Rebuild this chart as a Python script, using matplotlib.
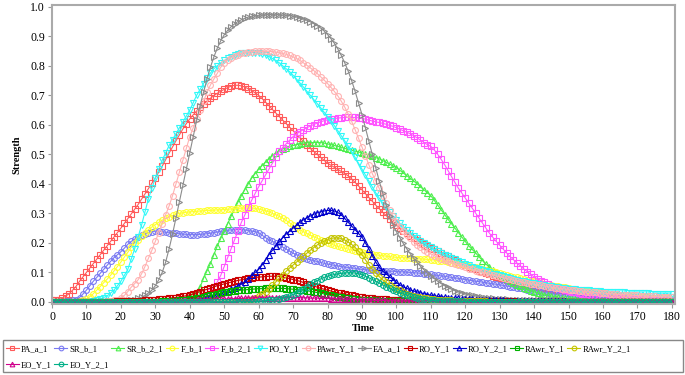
import matplotlib
matplotlib.use('Agg')
import matplotlib.pyplot as plt
from matplotlib.patches import Rectangle

plt.rcParams['font.family'] = ['Liberation Serif', 'DejaVu Serif']

# time axis, one sample per step
time = list(range(181))

pa_a_1 = [
    .005, .006, .008, .012, .02, .028, .04, .053, .07, .085,
    .10, .115, .13, .145, .16, .175, .19, .205, .22, .235,
    .25, .266, .282, .298, .314, .33, .348, .366, .384, .402,
    .42, .44, .46, .482, .504, .525, .546, .566, .586, .604,
    .62, .634, .647, .659, .67, .68, .69, .699, .707, .714,
    .72, .726, .731, .734, .734, .732, .728, .722, .716, .708,
    .70, .689, .677, .665, .652, .64, .628, .616, .604, .592,
    .58, .568, .556, .544, .532, .52, .51, .5, .49, .48,
    .47, .463, .456, .449, .442, .435, .427, .417, .405, .393,
    .38, .367, .354, .341, .328, .316, .304, .293, .282, .271,
    .26, .251, .242, .233, .225, .217, .21, .203, .196, .19,
    .184, .178, .172, .166, .16, .154, .148, .142, .136, .13,
    .125, .12, .115, .11, .105, .101, .097, .093, .089, .085,
    .082, .078, .075, .072, .069, .066, .063, .06, .058, .056,
    .054, .052, .05, .048, .046, .044, .042, .041, .039, .037,
    .036, .035, .033, .032, .031, .03, .029, .027, .026, .025,
    .024, .023, .022, .021, .02, .019, .018, .017, .016, .015,
    .014, .014, .013, .012, .012, .011, .01, .01, .009, .009,
    .008]

sr_b_1 = [
    0, 0, 0, .001, .002, .003, .005, .008, .015, .027,
    .04, .055, .07, .083, .097, .11, .124, .137, .15, .16,
    .17, .182, .195, .205, .213, .22, .226, .231, .235, .238,
    .24, .24, .238, .236, .234, .233, .232, .231, .23, .229,
    .228, .228, .228, .229, .23, .231, .233, .235, .237, .239,
    .241, .243, .244, .245, .245, .245, .244, .242, .24, .238,
    .235, .226, .218, .21, .205, .2, .193, .186, .179, .172,
    .165, .16, .155, .15, .146, .143, .14, .137, .134, .131,
    .128, .126, .124, .122, .12, .118, .117, .115, .114, .112,
    .11, .109, .108, .107, .107, .106, .105, .105, .104, .104,
    .103, .102, .102, .101, .1, .099, .098, .097, .096, .094,
    .093, .091, .09, .088, .087, .085, .083, .081, .08, .078,
    .076, .074, .072, .07, .069, .067, .065, .063, .061, .06,
    .058, .056, .054, .052, .05, .048, .046, .044, .042, .04,
    .038, .036, .034, .032, .03, .028, .026, .024, .022, .02,
    .018, .017, .016, .015, .014, .012, .011, .01, .009, .008,
    .008, .007, .007, .006, .006, .005, .005, .005, .004, .004,
    .004, .004, .003, .003, .003, .003, .003, .003, .002, .002,
    .002]

sr_b_2_1 = [
    0, 0, 0, 0, 0, 0, 0, 0, 0, 0,
    0, 0, 0, 0, 0, 0, 0, 0, 0, 0,
    0, 0, 0, 0, 0, .001, .001, .001, .002, .002,
    .002, .003, .003, .004, .004, .005, .006, .007, .009, .012,
    .02, .027, .035, .05, .08, .105, .13, .16, .19, .215,
    .24, .265, .29, .315, .338, .36, .38, .4, .42, .435,
    .45, .462, .474, .485, .495, .505, .512, .518, .523, .527,
    .53, .533, .536, .538, .539, .54, .54, .54, .54, .538,
    .535, .533, .53, .527, .524, .52, .517, .514, .511, .508,
    .505, .501, .497, .493, .489, .485, .479, .473, .467, .461,
    .455, .446, .437, .428, .419, .41, .4, .39, .38, .37,
    .36, .344, .328, .312, .296, .28, .265, .25, .235, .22,
    .205, .19, .178, .166, .153, .14, .128, .118, .109, .1,
    .092, .085, .078, .071, .065, .059, .053, .048, .043, .038,
    .034, .03, .027, .024, .022, .02, .018, .016, .014, .013,
    .012, .011, .01, .009, .008, .008, .007, .006, .006, .005,
    .005, .005, .004, .004, .004, .003, .003, .003, .003, .003,
    .002, .002, .002, .002, .002, .002, .002, .002, .002, .002,
    .002]

f_b_1 = [
    0, 0, 0, 0, 0, 0, 0, .001, .002, .005,
    .01, .018, .028, .04, .052, .065, .077, .09, .105, .12,
    .135, .152, .168, .185, .198, .21, .222, .234, .245, .254,
    .262, .27, .277, .283, .288, .293, .297, .3, .302, .304,
    .305, .306, .307, .308, .309, .31, .31, .311, .312, .312,
    .313, .314, .315, .316, .317, .318, .318, .318, .318, .317,
    .315, .312, .309, .305, .3, .295, .29, .284, .276, .268,
    .26, .252, .244, .238, .232, .226, .221, .216, .21, .205,
    .2, .196, .192, .188, .185, .182, .179, .176, .173, .17,
    .168, .166, .164, .162, .16, .158, .157, .155, .154, .152,
    .151, .15, .15, .149, .148, .147, .146, .146, .145, .144,
    .143, .142, .14, .139, .137, .135, .133, .131, .129, .127,
    .125, .123, .12, .118, .115, .112, .109, .106, .104, .101,
    .098, .095, .092, .089, .086, .083, .08, .077, .075, .072,
    .07, .067, .065, .062, .06, .058, .055, .053, .051, .049,
    .047, .045, .043, .042, .04, .038, .036, .035, .033, .032,
    .03, .029, .028, .026, .025, .024, .023, .022, .021, .02,
    .018, .018, .017, .016, .015, .014, .014, .013, .012, .012,
    .011]

f_b_2_1 = [
    0, 0, 0, 0, 0, 0, 0, 0, 0, 0,
    0, 0, 0, 0, 0, 0, 0, 0, 0, 0,
    0, 0, 0, 0, 0, 0, 0, 0, 0, 0,
    0, 0, 0, 0, 0, .001, .001, .002, .003, .004,
    .006, .008, .011, .015, .02, .025, .035, .05, .068, .09,
    .12, .15, .18, .21, .24, .27, .295, .32, .345, .368,
    .39, .41, .43, .45, .47, .49, .51, .523, .536, .548,
    .56, .569, .577, .584, .59, .596, .601, .606, .61, .614,
    .617, .619, .621, .623, .624, .625, .625, .625, .625, .624,
    .622, .619, .616, .613, .61, .608, .605, .602, .598, .595,
    .59, .585, .58, .575, .57, .563, .556, .548, .54, .533,
    .527, .515, .5, .483, .465, .445, .425, .405, .385, .369,
    .352, .335, .318, .301, .284, .267, .25, .233, .219, .205,
    .192, .179, .166, .154, .143, .132, .122, .112, .102, .093,
    .085, .078, .072, .066, .06, .055, .051, .047, .043, .04,
    .037, .034, .032, .03, .028, .026, .024, .022, .021, .02,
    .019, .018, .017, .016, .015, .014, .013, .012, .012, .011,
    .01, .01, .009, .009, .008, .008, .007, .007, .007, .006,
    .006]

po_y_1 = [
    0, 0, 0, 0, 0, 0, 0, 0, 0, 0,
    0, .001, .003, .005, .01, .015, .02, .03, .04, .055,
    .07, .09, .11, .145, .18, .22, .26, .305, .35, .385,
    .42, .45, .48, .505, .53, .55, .57, .59, .61, .63,
    .65, .675, .7, .72, .74, .76, .775, .79, .8, .81,
    .818, .825, .83, .835, .839, .842, .844, .845, .845, .845,
    .843, .84, .836, .831, .825, .818, .81, .8, .79, .78,
    .768, .755, .742, .728, .714, .7, .686, .672, .658, .643,
    .628, .613, .597, .58, .563, .546, .528, .51, .49, .47,
    .45, .43, .41, .39, .37, .352, .336, .32, .305, .29,
    .278, .266, .255, .244, .234, .224, .215, .207, .199, .192,
    .185, .178, .172, .166, .16, .155, .15, .145, .14, .135,
    .13, .125, .12, .116, .112, .108, .104, .1, .096, .093,
    .09, .087, .084, .081, .078, .075, .072, .07, .068, .065,
    .063, .061, .059, .057, .055, .053, .051, .049, .048, .046,
    .045, .044, .043, .042, .041, .04, .039, .038, .037, .036,
    .035, .034, .034, .033, .033, .032, .032, .031, .031, .03,
    .03, .03, .029, .029, .028, .028, .028, .027, .027, .027,
    .026]

pawr_y_1 = [
    0, 0, 0, 0, 0, 0, 0, 0, 0, 0,
    0, 0, 0, 0, 0, .001, .002, .003, .005, .008,
    .015, .022, .035, .05, .062, .075, .095, .12, .148, .175,
    .205, .235, .265, .295, .325, .36, .4, .44, .48, .52,
    .56, .59, .62, .65, .68, .71, .735, .755, .775, .795,
    .81, .82, .828, .834, .838, .842, .845, .847, .848, .849,
    .849, .849, .849, .849, .848, .846, .844, .842, .839, .835,
    .83, .825, .818, .81, .802, .793, .784, .774, .763, .752,
    .74, .727, .713, .698, .68, .66, .637, .612, .584, .555,
    .525, .495, .465, .435, .41, .385, .36, .335, .31, .29,
    .27, .255, .24, .227, .215, .204, .194, .185, .177, .17,
    .163, .157, .151, .146, .141, .137, .133, .129, .125, .121,
    .117, .113, .11, .106, .103, .1, .097, .094, .091, .088,
    .085, .082, .079, .077, .074, .071, .069, .066, .064, .062,
    .06, .058, .056, .054, .052, .05, .048, .047, .045, .044,
    .042, .041, .039, .038, .037, .035, .034, .033, .032, .031,
    .03, .029, .028, .027, .026, .025, .025, .024, .023, .022,
    .022, .021, .02, .02, .019, .019, .018, .018, .017, .017,
    .016]

ea_a_1 = [
    0, 0, 0, 0, 0, 0, 0, 0, 0, 0,
    0, 0, 0, 0, 0, 0, 0, 0, .001, .001,
    .002, .003, .004, .006, .008, .012, .016, .022, .03, .04,
    .055, .075, .1, .135, .18, .23, .285, .34, .395, .45,
    .505, .56, .615, .665, .71, .755, .795, .83, .86, .885,
    .905, .92, .932, .942, .95, .956, .961, .965, .968, .97,
    .971, .972, .973, .973, .973, .973, .973, .972, .971, .97,
    .968, .965, .962, .958, .954, .949, .943, .936, .928, .918,
    .906, .892, .876, .857, .835, .81, .782, .75, .714, .674,
    .635, .59, .545, .5, .455, .41, .37, .33, .29, .262,
    .238, .218, .198, .18, .164, .148, .134, .121, .109, .098,
    .088, .079, .07, .062, .055, .049, .043, .038, .034, .03,
    .027, .024, .022, .02, .018, .016, .015, .013, .012, .011,
    .01, .009, .009, .008, .008, .007, .007, .006, .006, .006,
    .005, .005, .005, .005, .005, .005, .005, .005, .005, .005,
    .004, .004, .004, .004, .004, .004, .004, .004, .004, .004,
    .003, .003, .003, .003, .003, .003, .003, .003, .003, .003,
    .003, .003, .003, .003, .003, .002, .002, .002, .002, .002,
    .002]

ro_y_1 = [
    0, 0, 0, 0, 0, 0, 0, 0, 0, 0,
    0, 0, 0, 0, 0, .001, .001, .001, .001, .002,
    .002, .002, .003, .003, .003, .004, .004, .005, .006, .007,
    .008, .009, .01, .011, .012, .014, .015, .017, .019, .021,
    .024, .027, .031, .035, .039, .043, .047, .051, .055, .058,
    .061, .064, .067, .07, .073, .075, .078, .08, .082, .083,
    .084, .085, .086, .087, .087, .087, .086, .084, .082, .079,
    .076, .073, .07, .066, .062, .058, .054, .05, .046, .043,
    .04, .037, .034, .031, .029, .027, .025, .022, .02, .018,
    .016, .015, .013, .012, .011, .01, .009, .009, .008, .008,
    .007, .007, .006, .006, .006, .005, .005, .005, .004, .004,
    .004, .004, .004, .003, .003, .003, .003, .003, .003, .002,
    .002, .002, .002, .002, .002, .002, .002, .002, .002, .002,
    .002, .002, .002, .002, .002, .001, .001, .001, .001, .001,
    .001, .001, .001, .001, .001, .001, .001, .001, .001, .001,
    .001, .001, .001, .001, .001, .001, .001, .001, .001, .001,
    0, 0, 0, 0, 0, 0, 0, 0, 0, 0,
    0, 0, 0, 0, 0, 0, 0, 0, 0, 0,
    0]

ro_y_2_1 = [
    0, 0, 0, 0, 0, 0, 0, 0, 0, 0,
    0, 0, 0, 0, 0, 0, 0, 0, 0, 0,
    0, 0, 0, 0, 0, 0, 0, 0, 0, 0,
    0, 0, 0, 0, 0, .001, .001, .002, .002, .003,
    .005, .006, .008, .011, .014, .017, .02, .023, .026, .03,
    .034, .038, .043, .048, .054, .06, .068, .078, .09, .1,
    .11, .125, .142, .16, .175, .19, .205, .218, .23, .24,
    .25, .26, .27, .278, .285, .291, .297, .302, .305, .308,
    .31, .31, .308, .303, .295, .283, .27, .257, .245, .232,
    .22, .2, .18, .157, .135, .118, .105, .095, .086, .076,
    .066, .058, .051, .046, .041, .037, .034, .031, .028, .025,
    .023, .021, .019, .018, .016, .015, .014, .013, .012, .011,
    .01, .009, .009, .008, .008, .007, .007, .006, .006, .005,
    .005, .005, .004, .004, .004, .004, .003, .003, .003, .003,
    .002, .002, .002, .002, .002, .002, .002, .002, .002, .002,
    .001, .001, .001, .001, .001, .001, .001, .001, .001, .001,
    .001, .001, .001, .001, .001, .001, .001, .001, .001, .001,
    .001, .001, .001, .001, .001, .001, .001, .001, .001, .001,
    .001]

rawr_y_1 = [
    0, 0, 0, 0, 0, 0, 0, 0, 0, 0,
    0, 0, 0, 0, 0, 0, 0, 0, 0, 0,
    0, 0, 0, 0, 0, 0, 0, 0, 0, 0,
    .001, .001, .002, .002, .003, .003, .004, .005, .006, .007,
    .009, .011, .012, .014, .017, .019, .022, .024, .027, .03,
    .032, .034, .036, .037, .039, .04, .041, .042, .043, .044,
    .045, .045, .046, .046, .046, .046, .046, .046, .045, .044,
    .043, .042, .041, .04, .038, .036, .034, .032, .03, .027,
    .025, .022, .02, .018, .016, .014, .012, .011, .009, .008,
    .007, .006, .006, .005, .005, .004, .004, .003, .003, .002,
    .002, .002, .002, .002, .002, .002, .002, .002, .002, .002,
    .001, .001, .001, .001, .001, .001, .001, .001, .001, .001,
    .001, .001, .001, .001, .001, .001, .001, .001, .001, .001,
    0, 0, 0, 0, 0, 0, 0, 0, 0, 0,
    0, 0, 0, 0, 0, 0, 0, 0, 0, 0,
    0, 0, 0, 0, 0, 0, 0, 0, 0, 0,
    0, 0, 0, 0, 0, 0, 0, 0, 0, 0,
    0, 0, 0, 0, 0, 0, 0, 0, 0, 0,
    0]

rawr_y_2_1 = [
    0, 0, 0, 0, 0, 0, 0, 0, 0, 0,
    0, 0, 0, 0, 0, 0, 0, 0, 0, 0,
    0, 0, 0, 0, 0, 0, 0, 0, 0, 0,
    0, 0, 0, 0, 0, 0, 0, 0, 0, 0,
    0, 0, 0, 0, 0, 0, 0, 0, 0, 0,
    0, 0, 0, .001, .002, .003, .004, .006, .01, .014,
    .02, .027, .035, .045, .056, .068, .08, .092, .104, .115,
    .125, .135, .145, .155, .165, .175, .184, .193, .2, .206,
    .211, .215, .217, .217, .215, .21, .203, .195, .185, .172,
    .16, .143, .126, .111, .098, .086, .075, .066, .058, .051,
    .045, .039, .033, .028, .024, .021, .018, .016, .014, .012,
    .01, .009, .008, .007, .006, .005, .005, .004, .004, .003,
    .003, .003, .002, .002, .002, .002, .002, .001, .001, .001,
    0, 0, 0, 0, 0, 0, 0, 0, 0, 0,
    0, 0, 0, 0, 0, 0, 0, 0, 0, 0,
    0, 0, 0, 0, 0, 0, 0, 0, 0, 0,
    0, 0, 0, 0, 0, 0, 0, 0, 0, 0,
    0, 0, 0, 0, 0, 0, 0, 0, 0, 0,
    0]

eo_y_1 = [
    0, 0, 0, 0, 0, 0, 0, 0, 0, 0,
    0, 0, 0, 0, 0, 0, 0, 0, 0, 0,
    0, 0, 0, 0, 0, 0, 0, 0, 0, 0,
    0, .001, .001, .001, .002, .002, .002, .003, .003, .003,
    .004, .004, .005, .005, .006, .007, .007, .008, .009, .009,
    .01, .01, .011, .011, .012, .012, .013, .013, .013, .014,
    .014, .014, .014, .015, .015, .015, .015, .015, .015, .015,
    .015, .015, .014, .014, .014, .013, .013, .013, .012, .012,
    .012, .011, .011, .01, .01, .009, .009, .008, .008, .007,
    .007, .007, .006, .006, .005, .005, .005, .004, .004, .004,
    .003, .003, .003, .003, .003, .003, .003, .003, .003, .003,
    .002, .002, .002, .002, .002, .002, .002, .002, .002, .002,
    .001, .001, .001, .001, .001, .001, .001, .001, .001, .001,
    0, 0, 0, 0, 0, 0, 0, 0, 0, 0,
    0, 0, 0, 0, 0, 0, 0, 0, 0, 0,
    0, 0, 0, 0, 0, 0, 0, 0, 0, 0,
    0, 0, 0, 0, 0, 0, 0, 0, 0, 0,
    0, 0, 0, 0, 0, 0, 0, 0, 0, 0,
    0]

eo_y_2_1 = [
    0, 0, 0, 0, 0, 0, 0, 0, 0, 0,
    0, 0, 0, 0, 0, 0, 0, 0, 0, 0,
    0, 0, 0, 0, 0, 0, 0, 0, 0, 0,
    0, 0, 0, 0, 0, 0, 0, 0, 0, 0,
    0, 0, 0, 0, 0, 0, 0, 0, 0, 0,
    0, 0, 0, 0, 0, 0, 0, 0, 0, 0,
    .002, .003, .004, .005, .006, .008, .01, .013, .016, .02,
    .025, .031, .038, .045, .052, .06, .066, .072, .078, .083,
    .087, .09, .093, .095, .097, .098, .099, .099, .098, .096,
    .092, .087, .082, .076, .07, .064, .058, .052, .046, .041,
    .036, .031, .027, .023, .019, .016, .013, .011, .009, .008,
    .006, .005, .004, .004, .003, .003, .002, .002, .002, .002,
    .001, .001, .001, .001, .001, .001, .001, .001, .001, .001,
    0, 0, 0, 0, 0, 0, 0, 0, 0, 0,
    0, 0, 0, 0, 0, 0, 0, 0, 0, 0,
    0, 0, 0, 0, 0, 0, 0, 0, 0, 0,
    0, 0, 0, 0, 0, 0, 0, 0, 0, 0,
    0, 0, 0, 0, 0, 0, 0, 0, 0, 0,
    0]

# name, values, colour, marker
series = [
    ('PA_a_1', pa_a_1, '#ff5a5a', 's'),
    ('SR_b_1', sr_b_1, '#7a7af2', 'o'),
    ('SR_b_2_1', sr_b_2_1, '#4cee4c', '^'),
    ('F_b_1', f_b_1, '#ffff30', 'o'),
    ('F_b_2_1', f_b_2_1, '#ff55ff', 's'),
    ('PO_Y_1', po_y_1, '#30f8f8', 'v'),
    ('PAwr_Y_1', pawr_y_1, '#ffb2b2', 'o'),
    ('EA_a_1', ea_a_1, '#8c8c8c', '>'),
    ('RO_Y_1', ro_y_1, '#cc0000', 's'),
    ('RO_Y_2_1', ro_y_2_1, '#0000cc', '^'),
    ('RAwr_Y_1', rawr_y_1, '#00b000', 's'),
    ('RAwr_Y_2_1', rawr_y_2_1, '#c4c400', 'o'),
    ('EO_Y_1', eo_y_1, '#d0008c', '^'),
    ('EO_Y_2_1', eo_y_2_1, '#00b088', 'o'),
]

for name, vals, c, m in series:
    assert len(vals) == len(time), name

fig = plt.figure(figsize=(6.85, 3.75), dpi=100)
ax = fig.add_axes([52/685, 1-304/375, 623/685, 299/375])

lines = {}
for name, vals, c, m in series:
    ln, = ax.plot(time, vals, color=c, lw=0.8, marker=m, markersize=4.2,
                  markerfacecolor='none', markeredgecolor=c, markeredgewidth=0.8,
                  label=name)
    lines[name] = ln

ax.set_xlim(0, 180.9)
ax.set_ylim(-0.007, 1.006)
ax.set_xticks(range(0, 181, 10))
ax.set_yticks([i/10 for i in range(11)])
ax.set_yticklabels(['%.1f' % (i/10) for i in range(11)])
ax.tick_params(labelsize=8.5, length=3, width=0.8, color='#999999', pad=2)
for s in ax.spines.values():
    s.set_color('#aaaaaa')
    s.set_linewidth(1.5)

ax.set_xlabel('Time', fontsize=7.5, fontweight='bold', labelpad=1)
ax.set_ylabel('Strength', fontsize=7.5, fontweight='bold', labelpad=6)

# legend laid out row by row like the original (matplotlib fills columns)
order = ['PA_a_1', 'EO_Y_1', 'SR_b_1', 'EO_Y_2_1', 'SR_b_2_1', 'F_b_1', 'F_b_2_1',
         'PO_Y_1', 'PAwr_Y_1', 'EA_a_1', 'RO_Y_1', 'RO_Y_2_1', 'RAwr_Y_1', 'RAwr_Y_2_1']
fig.legend([lines[n] for n in order], order, loc='upper left',
           bbox_to_anchor=(5/685, 1-344/375), frameon=False, ncol=12,
           fontsize=6.2, handlelength=1.5, handletextpad=0.25, columnspacing=0.3,
           borderaxespad=0, borderpad=0.1, labelspacing=0.95, markerscale=0.8)
fig.patches.append(Rectangle((3/685, 3/375), 680/685, 32/375, transform=fig.transFigure,
                             fill=False, edgecolor='#888888', linewidth=1))

fig.savefig('out.png', dpi=100)
